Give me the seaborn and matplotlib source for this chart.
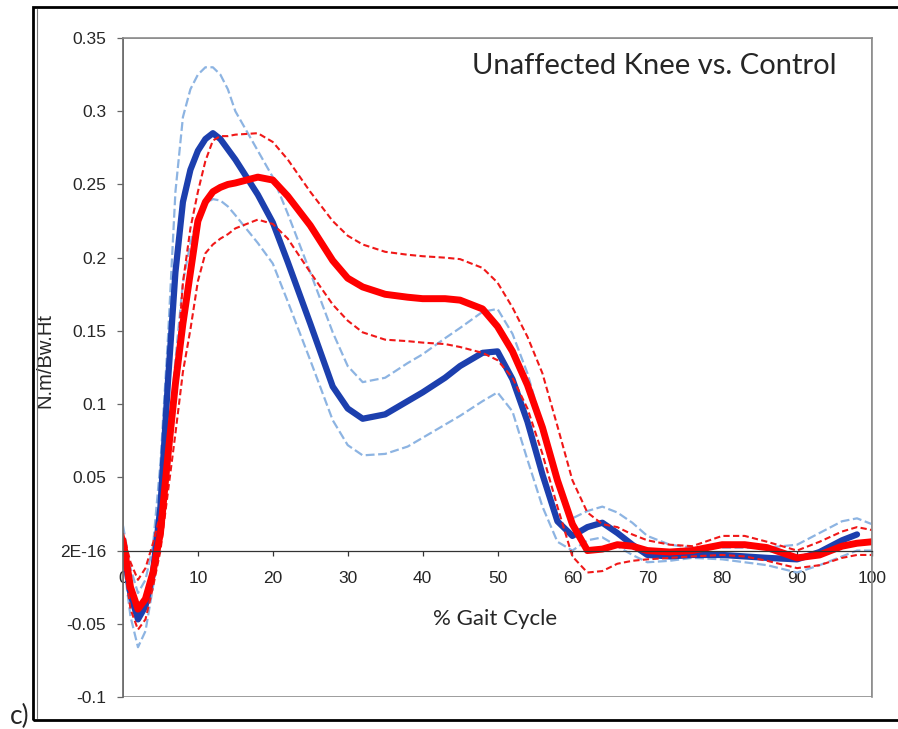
import numpy as np
import matplotlib.pyplot as plt
import seaborn as sns
from matplotlib.patches import Rectangle
from matplotlib.lines import Line2D

# % gait cycle sample points
gait = [0, 1, 2, 3, 4, 5, 6, 7, 8, 9, 10, 11, 12, 13, 14, 15, 18, 20, 22, 25,
        28, 30, 32, 35, 38, 40, 43, 45, 48, 50, 52, 54, 56, 58, 60, 62, 64, 66, 68, 70,
        73, 76, 80, 83, 86, 90, 93, 96, 98, 100]

# control (blue): mean and +/- 1 SD
control_mean = [0.005, -0.03, -0.047, -0.038, -0.015, 0.03, 0.115, 0.19, 0.238, 0.26,
                0.273, 0.281, 0.285, 0.281, 0.274, 0.267, 0.243, 0.224, 0.197, 0.155,
                0.112, 0.097, 0.09, 0.093, 0.102, 0.108, 0.118, 0.126, 0.135, 0.136,
                0.117, 0.088, 0.052, 0.02, 0.01, 0.016, 0.019, 0.012, 0.004, -0.003,
                -0.004, -0.003, -0.003, -0.004, -0.005, -0.006, -0.001, 0.007, 0.011, np.nan]
control_upper = [0.017, -0.012, -0.029, -0.02, 0.003, 0.06, 0.145, 0.245, 0.296, 0.315,
                 0.325, 0.33, 0.33, 0.325, 0.315, 0.3, 0.273, 0.255, 0.23, 0.19,
                 0.149, 0.126, 0.115, 0.118, 0.128, 0.134, 0.145, 0.152, 0.163, 0.165,
                 0.148, 0.121, 0.085, 0.045, 0.022, 0.027, 0.03, 0.026, 0.019, 0.01,
                 0.004, 0.002, 0.002, 0.002, 0.002, 0.004, 0.012, 0.02, 0.022, 0.018]
control_lower = [-0.005, -0.045, -0.066, -0.055, -0.025, 0.01, 0.07, 0.13, 0.183, 0.21,
                 0.229, 0.237, 0.24, 0.239, 0.235, 0.229, 0.21, 0.196, 0.17, 0.13,
                 0.089, 0.072, 0.065, 0.066, 0.071, 0.077, 0.086, 0.092, 0.102, 0.108,
                 0.095, 0.062, 0.03, 0.006, 0.0, 0.007, 0.009, 0.003, -0.003, -0.008,
                 -0.007, -0.005, -0.006, -0.008, -0.01, -0.015, -0.01, -0.004, 0.0, 0.0]

# unaffected knee (red): mean and +/- 1 SD
knee_mean = [0.007, -0.025, -0.04, -0.033, -0.015, 0.012, 0.065, 0.114, 0.155, 0.19,
             0.225, 0.238, 0.245, 0.248, 0.25, 0.251, 0.255, 0.253, 0.242, 0.222,
             0.198, 0.186, 0.18, 0.175, 0.173, 0.172, 0.172, 0.171, 0.165, 0.153,
             0.136, 0.113, 0.084, 0.048, 0.018, 0.0, 0.001, 0.004, 0.003, 0.0,
             -0.001, 0.0, 0.004, 0.004, 0.002, -0.005, -0.003, 0.003, 0.005, 0.006]
knee_upper = [0.012, -0.008, -0.02, -0.012, 0.005, 0.025, 0.06, 0.114, 0.183, 0.22,
              0.245, 0.266, 0.28, 0.283, 0.283, 0.284, 0.285, 0.279, 0.267, 0.245,
              0.225, 0.215, 0.209, 0.204, 0.202, 0.201, 0.2, 0.199, 0.193, 0.183,
              0.166, 0.146, 0.121, 0.085, 0.048, 0.026, 0.018, 0.016, 0.011, 0.007,
              0.004, 0.003, 0.01, 0.01, 0.006, 0.0, 0.006, 0.013, 0.016, 0.014]
knee_lower = [-0.003, -0.04, -0.054, -0.047, -0.025, 0.0, 0.04, 0.08, 0.122, 0.151,
              0.184, 0.203, 0.209, 0.213, 0.216, 0.22, 0.226, 0.223, 0.213, 0.19,
              0.168, 0.157, 0.149, 0.144, 0.143, 0.142, 0.141, 0.139, 0.135, 0.13,
              0.118, 0.097, 0.066, 0.03, -0.004, -0.015, -0.014, -0.009, -0.007, -0.006,
              -0.005, -0.004, -0.003, -0.004, -0.007, -0.012, -0.01, -0.005, -0.003, -0.003]

xticks = [0, 10, 20, 30, 40, 50, 60, 70, 80, 90, 100]
yticks = [-0.1, -0.05, 0, 0.05, 0.1, 0.15, 0.2, 0.25, 0.3, 0.35]
ytick_labels = ['-0.1', '-0.05', '2E-16', '0.05', '0.1', '0.15', '0.2', '0.25', '0.3', '0.35']

sns.set_style('white')
plt.rcParams['font.family'] = ['Liberation Sans', 'DejaVu Sans']

fig = plt.figure(figsize=(8.98, 7.29), dpi=100)
ax = fig.add_axes([123 / 898, 1 - 697 / 729, 749 / 898, 659 / 729])

light_blue = '#8db4e2'
dark_blue = '#1c3fae'
red = '#ff0000'
red_dash = '#f01818'

sns.lineplot(x=gait, y=control_upper, ax=ax, color=light_blue, lw=1.6, linestyle=(0, (4, 1.6)))
sns.lineplot(x=gait, y=control_lower, ax=ax, color=light_blue, lw=1.6, linestyle=(0, (4, 1.6)))
sns.lineplot(x=gait, y=control_mean, ax=ax, color=dark_blue, lw=4.5)
sns.lineplot(x=gait, y=knee_upper, ax=ax, color=red_dash, lw=1.5, linestyle=(0, (3, 1.6)))
sns.lineplot(x=gait, y=knee_lower, ax=ax, color=red_dash, lw=1.5, linestyle=(0, (3, 1.6)))
sns.lineplot(x=gait, y=knee_mean, ax=ax, color=red, lw=5)

ax.set_xlim(0, 100)
ax.set_ylim(-0.1, 0.35)
ax.set_xticks(xticks)
ax.set_yticks(yticks)
ax.set_yticklabels(ytick_labels)

# Excel style: x axis crosses at zero, grey plot-area border
for side in ['top', 'right']:
    ax.spines[side].set_color('#8c8c8c')
    ax.spines[side].set_linewidth(1.2)
ax.spines['left'].set_color('#666666')
ax.spines['left'].set_linewidth(1.2)
ax.spines['bottom'].set_position(('data', 0))
ax.spines['bottom'].set_color('#333333')
ax.spines['bottom'].set_linewidth(0.9)
ax.add_patch(Rectangle((0, 0), 1, 1, transform=ax.transAxes, fill=False,
                       ec='#8c8c8c', lw=1.2, zorder=0))

ax.tick_params(axis='y', direction='out', length=4, width=0.9, color='#666666',
               labelsize=12.5, pad=8, left=True)
ax.tick_params(axis='x', direction='out', length=3.5, width=0.9, color='#333333',
               labelsize=12.5, pad=11, bottom=True)
ax.set_xlabel('')
ax.set_ylabel('N.m/Bw.Ht', fontsize=14.5)
ax.yaxis.set_label_coords(-0.091, 0.51)

ax.text(49.7, -0.047, '% Gait Cycle', fontsize=16, family='Lato', ha='center', va='center')
ax.text(0.952, 0.958, 'Unaffected Knee vs. Control', transform=ax.transAxes,
        fontsize=21, family='Lato', ha='right', va='center')

# outer frame of the panel
fig.add_artist(Rectangle((33 / 898, 1 - 720 / 729), 900 / 898, 713 / 729,
                         transform=fig.transFigure, fill=False, ec='black', lw=2))
fig.add_artist(Line2D([36.5 / 898, 36.5 / 898], [1 - 718 / 729, 1 - 9 / 729],
                      transform=fig.transFigure, color='#777777', lw=0.8))
fig.text(10 / 898, 1 - 716 / 729, 'c)', fontsize=19, family='Lato', va='center')

fig.savefig('out.png', dpi=100)
